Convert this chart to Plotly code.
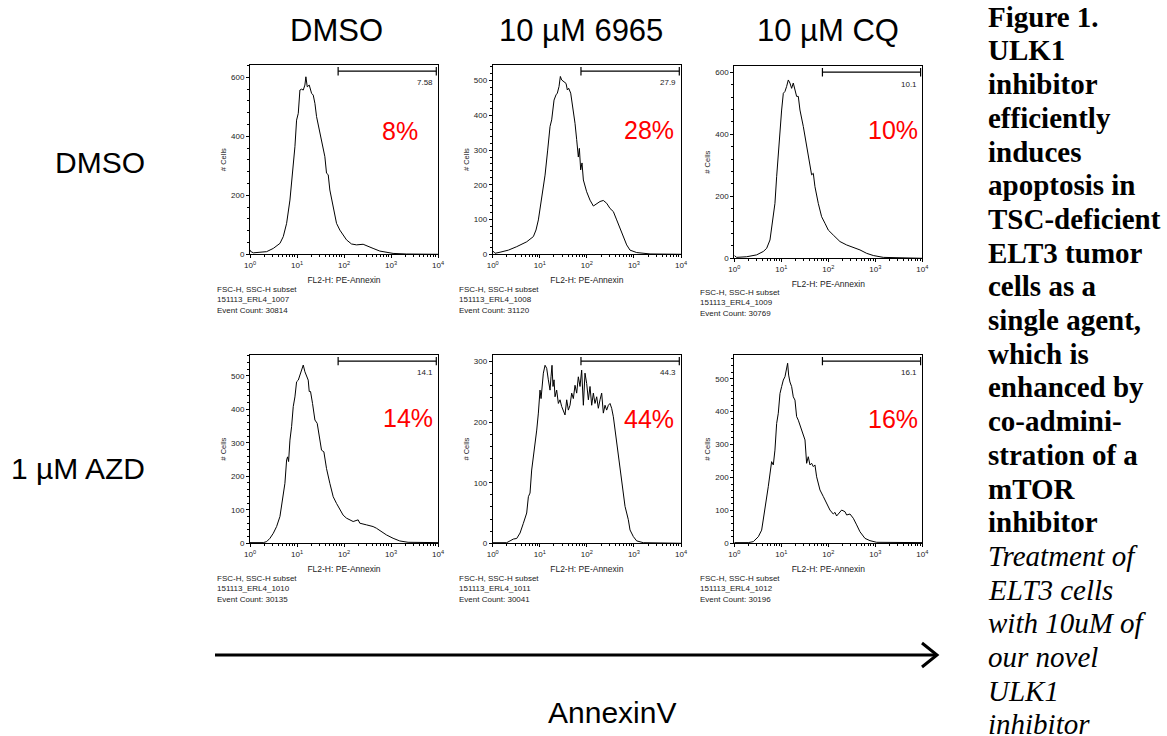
import numpy as np
import plotly.graph_objects as go

# ---------------- data ----------------
col_titles = ["DMSO", "10 µM 6965", "10 µM CQ"]
row_titles = ["DMSO", "1 µM AZD"]

# log10(FL2-H PE-Annexin) positions and cell counts per panel
log_fl2_dmso_dmso = [0, 0.01, 0.071, 0.354, 0.496, 0.637, 0.708, 0.779, 0.850, 0.885,
                     0.920, 0.956, 0.991, 1.027, 1.062, 1.097, 1.133, 1.168, 1.189, 1.218,
                     1.260, 1.310, 1.345, 1.381, 1.416, 1.487, 1.558, 1.593, 1.628, 1.664,
                     1.699, 1.770, 1.805, 1.841, 1.912, 1.982, 2.053, 2.159, 2.265, 2.407,
                     2.513, 2.619, 2.761, 2.903, 3.044, 3.327, 4.0]
cells_dmso_dmso = [15, 10, 5, 9, 20, 37, 60, 105, 184, 240,
                   286, 365, 455, 478, 557, 560, 557, 574, 602, 568,
                   574, 546, 540, 512, 467, 410, 365, 331, 275, 270,
                   218, 162, 133, 105, 82, 66, 49, 35, 32, 34,
                   28, 20, 11, 7, 3, 1, 0]

log_fl2_dmso_6965 = [0, 0.05, 0.156, 0.333, 0.510, 0.722, 0.864, 0.920, 0.970, 1.041,
                     1.112, 1.168, 1.218, 1.253, 1.303, 1.345, 1.373, 1.409, 1.437, 1.465,
                     1.501, 1.558, 1.586, 1.614, 1.657, 1.699, 1.749, 1.784, 1.819, 1.841,
                     1.869, 1.897, 1.926, 1.996, 2.067, 2.138, 2.209, 2.280, 2.350, 2.421,
                     2.492, 2.563, 2.634, 2.704, 2.775, 2.846, 2.917, 3.058, 3.342, 4.0]
cells_dmso_6965 = [10, 3, 6, 12, 22, 36, 51, 70, 99, 166,
                   228, 300, 368, 387, 444, 459, 464, 483, 512, 502,
                   497, 492, 473, 478, 464, 425, 377, 330, 280, 305,
                   243, 263, 214, 180, 156, 139, 145, 152, 155, 147,
                   132, 123, 99, 75, 51, 27, 12, 5, 1, 0]

log_fl2_dmso_cq = [0, 0.05, 0.262, 0.475, 0.617, 0.688, 0.759, 0.830, 0.865, 0.901,
                   0.936, 0.972, 1.007, 1.043, 1.078, 1.113, 1.149, 1.184, 1.220, 1.255,
                   1.291, 1.326, 1.362, 1.397, 1.468, 1.539, 1.610, 1.645, 1.681, 1.716,
                   1.787, 1.858, 1.929, 2.000, 2.106, 2.248, 2.390, 2.532, 2.674, 2.816,
                   2.957, 3.170, 4.0]
cells_dmso_cq = [9, 3, 5, 11, 22, 32, 59, 134, 177, 263,
                 339, 409, 478, 532, 538, 554, 575, 565, 548, 565,
                 538, 522, 522, 478, 425, 360, 306, 269, 274, 231,
                 177, 134, 113, 91, 75, 54, 43, 35, 27, 16,
                 9, 3, 0]

log_fl2_azd_dmso = [0, 0.283, 0.354, 0.425, 0.496, 0.566, 0.637, 0.673, 0.708, 0.743,
                    0.779, 0.800, 0.821, 0.850, 0.885, 0.920, 0.956, 0.991, 1.027, 1.062,
                    1.097, 1.133, 1.168, 1.204, 1.239, 1.260, 1.288, 1.331, 1.381, 1.430,
                    1.473, 1.522, 1.572, 1.593, 1.628, 1.699, 1.770, 1.841, 1.912, 1.982,
                    2.053, 2.195, 2.301, 2.336, 2.478, 2.619, 2.690, 2.796, 2.903, 3.044,
                    3.186, 3.363, 4.0]
cells_azd_dmso = [2, 2, 5, 15, 30, 50, 80, 119, 149, 179,
                  249, 258, 244, 308, 348, 408, 437, 482, 487, 502,
                  517, 532, 512, 497, 487, 453, 453, 417, 368, 358,
                  318, 278, 273, 249, 223, 179, 139, 119, 99, 84,
                  75, 65, 70, 60, 55, 50, 45, 35, 25, 15,
                  7, 3, 2]

log_fl2_azd_6965 = [0, 0.297, 0.368, 0.439, 0.510, 0.581, 0.651, 0.722, 0.758, 0.793,
                    0.828, 0.864, 0.899, 0.935, 0.970, 1.005, 1.027, 1.048, 1.076, 1.112,
                    1.147, 1.182, 1.218, 1.239, 1.260, 1.281, 1.303, 1.324, 1.359, 1.395,
                    1.430, 1.465, 1.501, 1.536, 1.572, 1.607, 1.642, 1.678, 1.713, 1.749,
                    1.784, 1.819, 1.855, 1.890, 1.926, 1.961, 1.996, 2.032, 2.067, 2.103,
                    2.138, 2.173, 2.209, 2.244, 2.280, 2.315, 2.350, 2.386, 2.421, 2.457,
                    2.492, 2.527, 2.563, 2.598, 2.634, 2.669, 2.704, 2.740, 2.775, 2.811,
                    2.846, 2.881, 2.917, 2.988, 3.058, 3.200, 4.0]
cells_azd_6965 = [1, 1, 4, 7, 8, 17, 33, 50, 77, 83,
                  121, 143, 160, 187, 215, 253, 239, 264, 281, 294,
                  289, 270, 253, 275, 294, 259, 270, 242, 253, 231,
                  237, 226, 217, 212, 237, 220, 228, 248, 239, 261,
                  248, 275, 259, 286, 228, 281, 264, 237, 259, 228,
                  248, 231, 242, 223, 237, 248, 215, 228, 220, 228,
                  231, 223, 209, 187, 165, 143, 121, 99, 77, 61,
                  50, 39, 22, 11, 4, 1, 0]

log_fl2_azd_cq = [0, 0.298, 0.404, 0.511, 0.582, 0.652, 0.723, 0.794, 0.830, 0.865,
                  0.901, 0.936, 0.972, 1.007, 1.043, 1.078, 1.113, 1.135, 1.156, 1.184,
                  1.220, 1.255, 1.291, 1.326, 1.362, 1.433, 1.504, 1.539, 1.574, 1.610,
                  1.645, 1.681, 1.716, 1.752, 1.823, 1.894, 1.965, 2.035, 2.106, 2.142,
                  2.177, 2.248, 2.284, 2.355, 2.390, 2.461, 2.532, 2.603, 2.674, 2.780,
                  2.887, 3.028, 4.0]
cells_azd_cq = [2, 2, 5, 20, 40, 101, 172, 248, 238, 283,
                364, 395, 455, 476, 496, 506, 526, 547, 511, 490,
                476, 445, 435, 385, 374, 344, 314, 243, 263, 238,
                243, 233, 238, 202, 162, 142, 121, 101, 89, 94,
                83, 93, 101, 96, 86, 89, 76, 56, 35, 15,
                8, 3, 2]

panel_logs = [log_fl2_dmso_dmso, log_fl2_dmso_6965, log_fl2_dmso_cq,
              log_fl2_azd_dmso, log_fl2_azd_6965, log_fl2_azd_cq]
panel_cells = [cells_dmso_dmso, cells_dmso_6965, cells_dmso_cq,
               cells_azd_dmso, cells_azd_6965, cells_azd_cq]

gate_low = [75, 75, 75, 75, 75, 75]
gate_high = [9200, 9200, 9200, 9200, 9200, 9200]
gate_freq = ["7.58", "27.9", "10.1", "14.1", "44.3", "16.1"]
percent_labels = ["8%", "28%", "10%", "14%", "44%", "16%"]
sample_ids = ["151113_ERL4_1007", "151113_ERL4_1008", "151113_ERL4_1009",
              "151113_ERL4_1010", "151113_ERL4_1011", "151113_ERL4_1012"]
event_counts = [30814, 31120, 30769, 30135, 30041, 30196]
y_max = [642, 545, 620, 562, 311, 572]
y_dtick = [200, 100, 200, 100, 100, 100]

x_tickvals = [1, 10, 100, 1000, 10000]
x_ticktext = ["10<sup>0</sup>", "10<sup>1</sup>", "10<sup>2</sup>", "10<sup>3</sup>", "10<sup>4</sup>"]

caption_bold = ["Figure 1.", "ULK1", "inhibitor", "efficiently", "induces",
                "apoptosis in", "TSC-deficient", "ELT3 tumor", "cells as a",
                "single agent,", "which is", "enhanced by", "co-admini-",
                "stration of a", "mTOR", "inhibitor"]
caption_italic = ["Treatment of", "ELT3 cells", "with 10uM of", "our novel",
                  "ULK1", "inhibitor"]

# ---------------- layout geometry (pixels) ----------------
W, H = 1167, 736
panel_x_px = [(250, 438), (492.7, 681), (734.3, 922.3)] * 2
panel_y_px = [(65, 254.3), (65, 254.3), (66, 258.3),
              (355, 543.3), (355, 543.3), (355, 543.3)]
pct_pos = [(400, 131), (649, 130), (892.7, 130), (408, 418), (649, 419), (892.7, 419)]
footer_pos = [(215, 283), (457, 283), (698, 286), (215, 572), (457, 572), (698, 572)]

SANS = "Liberation Sans, Arial, sans-serif"
SERIF = "Liberation Serif, Times New Roman, serif"


def px(x):
    return x / W


def py(y):
    return 1 - y / H


fig = go.Figure()
annotations = []
shapes = []

minor_x = [m * 10 ** d for d in range(4) for m in range(2, 10)]

for i in range(6):
    n = "" if i == 0 else str(i + 1)
    xa, ya = "x" + n, "y" + n
    fig.add_trace(go.Scatter(
        x=10 ** np.array(panel_logs[i]), y=panel_cells[i], mode="lines",
        line=dict(color="black", width=1), xaxis=xa, yaxis=ya,
        showlegend=False, hoverinfo="skip"))

    x0, x1 = panel_x_px[i]
    yt, yb = panel_y_px[i]
    fig.update_layout(**{
        "xaxis" + n: dict(
            domain=[px(x0), px(x1)], anchor=ya, type="log", range=[0, 4],
            showline=True, linecolor="black", linewidth=1, mirror=True,
            showgrid=False, zeroline=False,
            tickvals=x_tickvals, ticktext=x_ticktext, ticks="outside",
            ticklen=3, tickcolor="black",
            minor=dict(tickvals=minor_x, ticks="outside", ticklen=2, tickcolor="black"),
            tickfont=dict(family=SANS, size=8, color="#222"),
            title=dict(text="FL2-H: PE-Annexin", standoff=8,
                       font=dict(family=SANS, size=8.5, color="#222")),
            automargin=False, fixedrange=True),
        "yaxis" + n: dict(
            domain=[py(yb), py(yt)], anchor=xa, range=[0, y_max[i]],
            showline=True, linecolor="black", linewidth=1, mirror=True,
            showgrid=False, zeroline=False, dtick=y_dtick[i], tick0=0,
            ticks="outside", ticklen=3, tickcolor="black",
            minor=dict(dtick=y_dtick[i] / 5, ticks="outside", ticklen=2, tickcolor="black"),
            tickfont=dict(family=SANS, size=8, color="#222"),
            title=dict(text="# Cells", standoff=3,
                       font=dict(family=SANS, size=7.5, color="#222")),
            automargin=False, fixedrange=True),
    })

    # gate bar
    shapes.append(dict(type="line", xref=xa, yref=ya + " domain",
                       x0=gate_low[i], x1=gate_high[i], y0=0.968, y1=0.968,
                       line=dict(color="black", width=1.2)))
    for gx in (gate_low[i], gate_high[i]):
        shapes.append(dict(type="line", xref=xa, yref=ya + " domain",
                           x0=gx, x1=gx, y0=0.945, y1=0.99,
                           line=dict(color="black", width=1.2)))
    annotations.append(dict(xref=xa + " domain", yref=ya + " domain", x=0.985, y=0.905,
                            text=gate_freq[i], showarrow=False, xanchor="right",
                            yanchor="middle",
                            font=dict(family=SANS, size=8, color="#222")))
    # red percentage
    annotations.append(dict(xref="paper", yref="paper", x=px(pct_pos[i][0]),
                            y=py(pct_pos[i][1]), text=percent_labels[i],
                            showarrow=False, xanchor="center", yanchor="middle",
                            font=dict(family=SANS, size=25, color="#ff0000")))
    # footer
    annotations.append(dict(xref="paper", yref="paper", x=px(footer_pos[i][0]),
                            y=py(footer_pos[i][1]), align="left",
                            text="FSC-H, SSC-H subset<br>%s<br>Event Count: %d"
                                 % (sample_ids[i], event_counts[i]),
                            showarrow=False, xanchor="left", yanchor="top",
                            font=dict(family=SANS, size=8, color="#222")))

# column titles
col_x = [336, 581, 828]
for t, cx in zip(col_titles, col_x):
    annotations.append(dict(xref="paper", yref="paper", x=px(cx), y=py(30), text=t,
                            showarrow=False, xanchor="center", yanchor="middle",
                            font=dict(family=SANS, size=31, color="black")))
# row titles
row_y = [162, 468]
for t, ry in zip(row_titles, row_y):
    annotations.append(dict(xref="paper", yref="paper", x=px(147), y=py(ry), text=t,
                            showarrow=False, xanchor="right", yanchor="middle",
                            font=dict(family=SANS, size=30, color="black")))

# AnnexinV arrow
shapes.append(dict(type="line", xref="paper", yref="paper", x0=px(215), x1=px(936),
                   y0=py(655), y1=py(655), line=dict(color="black", width=3)))
shapes.append(dict(type="path", xref="paper", yref="paper",
                   path="M %f %f L %f %f L %f %f" % (px(922), py(643), px(937), py(655),
                                                     px(922), py(667)),
                   line=dict(color="black", width=3)))
annotations.append(dict(xref="paper", yref="paper", x=px(612), y=py(712), text="AnnexinV",
                        showarrow=False, xanchor="center", yanchor="middle",
                        font=dict(family=SANS, size=30, color="black")))

# caption on the right
cap_lines = ["<b>%s</b>" % s for s in caption_bold] + ["<i>%s</i>" % s for s in caption_italic]
for k, s in enumerate(cap_lines):
    annotations.append(dict(xref="paper", yref="paper", x=px(985.5), y=py(16.7 + 33.7 * k),
                            text=s, showarrow=False, xanchor="left", yanchor="middle",
                            font=dict(family=SERIF, size=29, color="black")))

fig.update_layout(width=W, height=H, margin=dict(l=0, r=0, t=0, b=0),
                  paper_bgcolor="white", plot_bgcolor="white",
                  annotations=annotations, shapes=shapes, showlegend=False)

fig.write_html("out.html", config={"displayModeBar": False},
               post_script="document.body.style.margin='0';document.body.style.overflow='hidden';")
